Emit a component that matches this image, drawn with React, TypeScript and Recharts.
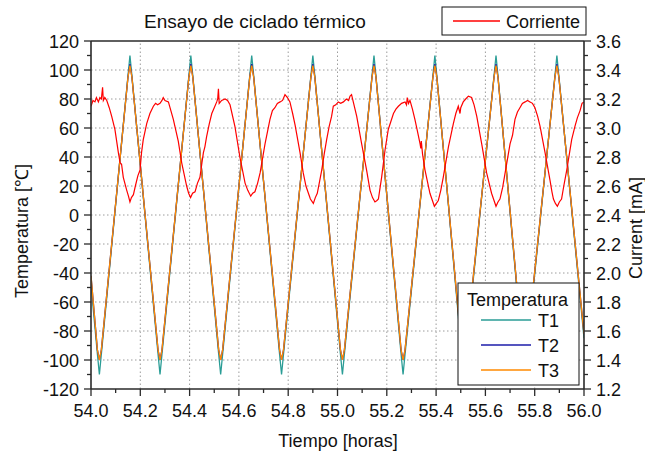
import { LineChart, Line, XAxis, YAxis, ReferenceLine } from "recharts";

// time axis [h] and temperature readings [°C]
const tempTime = [
  54.0, 54.026, 54.034, 54.042,
  54.15, 54.158, 54.166,
  54.272, 54.28, 54.288,
  54.397, 54.405, 54.413,
  54.518, 54.526, 54.534,
  54.644, 54.652, 54.66,
  54.765, 54.773, 54.781,
  54.892, 54.9, 54.908,
  55.012, 55.02, 55.028,
  55.14, 55.148, 55.156,
  55.258, 55.266, 55.274,
  55.387, 55.395, 55.403,
  55.504, 55.512, 55.52,
  55.635, 55.643, 55.651,
  55.751, 55.759, 55.767,
  55.882, 55.89, 55.898,
  56.0,
];
const t1 = [
  -48, -96, -110, -96,
  96, 110, 96, -96, -110, -96,
  96, 110, 96, -96, -110, -96,
  96, 110, 96, -96, -110, -96,
  96, 110, 96, -96, -110, -96,
  96, 110, 96, -96, -110, -96,
  96, 110, 96, -96, -110, -96,
  96, 110, 96, -96, -110, -96,
  96, 110, 96,
  -85,
];
const t2 = [
  -42, -93, -100, -93,
  95, 104, 95, -93, -100, -93,
  95, 104, 95, -93, -100, -93,
  95, 104, 95, -93, -100, -93,
  95, 104, 95, -93, -100, -93,
  95, 104, 95, -93, -100, -93,
  95, 104, 95, -93, -100, -93,
  95, 104, 95, -93, -100, -93,
  95, 104, 95,
  -82,
];
const t3 = [
  -42, -93, -100, -93,
  95, 103, 95, -93, -100, -93,
  95, 103, 95, -93, -100, -93,
  95, 103, 95, -93, -100, -93,
  95, 103, 95, -93, -100, -93,
  95, 103, 95, -93, -100, -93,
  95, 103, 95, -93, -100, -93,
  95, 103, 95, -93, -100, -93,
  95, 103, 95,
  -82,
];

// current readings [mA]
const currentTime = [
  54.0, 54.008, 54.016, 54.022, 54.03, 54.036, 54.042, 54.047, 54.05, 54.056, 54.064, 54.074, 54.084, 54.097,
  54.111, 54.118, 54.124, 54.131, 54.145, 54.152, 54.158, 54.164, 54.172, 54.18, 54.19, 54.199, 54.205, 54.212,
  54.226, 54.239, 54.253, 54.262, 54.27, 54.28, 54.288, 54.293, 54.3, 54.314, 54.324, 54.334, 54.354, 54.368,
  54.388, 54.396, 54.404, 54.412, 54.422, 54.432, 54.442, 54.45, 54.456, 54.462, 54.469, 54.48, 54.49, 54.5,
  54.51, 54.514, 54.517, 54.52, 54.53, 54.544, 54.554, 54.564, 54.584, 54.604, 54.625, 54.636, 54.648, 54.656,
  54.665, 54.676, 54.686, 54.706, 54.726, 54.736, 54.746, 54.756, 54.767, 54.777, 54.787, 54.797, 54.807, 54.818,
  54.828, 54.848, 54.861, 54.872, 54.882, 54.89, 54.902, 54.91, 54.918, 54.926, 54.936, 54.946, 54.956, 54.966,
  54.976, 54.983, 54.993, 55.003, 55.013, 55.024, 55.036, 55.045, 55.051, 55.057, 55.064, 55.078, 55.098, 55.118,
  55.132, 55.142, 55.152, 55.16, 55.166, 55.172, 55.179, 55.193, 55.206, 55.227, 55.237, 55.247, 55.26, 55.274,
  55.28, 55.283, 55.288, 55.294, 55.304, 55.314, 55.324, 55.335, 55.338, 55.34, 55.345, 55.355, 55.375, 55.385,
  55.393, 55.401, 55.409, 55.419, 55.429, 55.45, 55.47, 55.48, 55.49, 55.497, 55.5, 55.51, 55.52, 55.531,
  55.544, 55.554, 55.565, 55.585, 55.605, 55.625, 55.635, 55.643, 55.651, 55.659, 55.67, 55.68, 55.7, 55.705,
  55.71, 55.72, 55.73, 55.74, 55.75, 55.761, 55.771, 55.781, 55.791, 55.801, 55.812, 55.822, 55.842, 55.862,
  55.87, 55.876, 55.884, 55.892, 55.9, 55.909, 55.918, 55.93, 55.95, 55.963, 55.973, 55.984, 55.992, 56.0,
];
const currentMa = [
  3.15, 3.19, 3.18, 3.21, 3.18, 3.21, 3.2, 3.28, 3.19, 3.21, 3.19, 3.14, 3.08, 2.99,
  2.83, 2.76, 2.75, 2.66, 2.57, 2.53, 2.49, 2.52, 2.54, 2.6, 2.67, 2.71, 2.83, 2.92,
  3.03, 3.1, 3.15, 3.17, 3.16, 3.17, 3.19, 3.21, 3.19, 3.18, 3.12, 3.06, 2.91, 2.76,
  2.6, 2.55, 2.52, 2.55, 2.56, 2.62, 2.66, 2.76, 2.83, 2.87, 2.94, 3.03, 3.1, 3.14,
  3.18, 3.2, 3.27, 3.17, 3.19, 3.2, 3.19, 3.16, 3.01, 2.8, 2.62, 2.57, 2.53, 2.55,
  2.56, 2.62, 2.69, 2.89, 3.06, 3.12, 3.14, 3.17, 3.18, 3.19, 3.23, 3.21, 3.18, 3.1,
  3.02, 2.83, 2.69, 2.6, 2.55, 2.51, 2.48, 2.52, 2.55, 2.62, 2.71, 2.82, 2.92, 3.01,
  3.08, 3.15, 3.16, 3.18, 3.17, 3.18, 3.2, 3.19, 3.22, 3.23, 3.18, 3.08, 2.89, 2.71,
  2.57, 2.52, 2.49, 2.5, 2.51, 2.58, 2.66, 2.85, 2.99, 3.1, 3.13, 3.15, 3.17, 3.18,
  3.16, 3.21, 3.17, 3.19, 3.13, 3.06, 2.98, 2.89, 2.86, 2.91, 2.82, 2.71, 2.55, 2.5,
  2.46, 2.48, 2.5, 2.57, 2.66, 2.87, 3.03, 3.1, 3.15, 3.1, 3.14, 3.18, 3.2, 3.22,
  3.21, 3.16, 3.08, 2.89, 2.69, 2.55, 2.5, 2.46, 2.49, 2.51, 2.59, 2.69, 2.89, 2.92,
  2.95, 3.06, 3.11, 3.14, 3.17, 3.18, 3.19, 3.18, 3.17, 3.14, 3.08, 3.01, 2.83, 2.64,
  2.56, 2.51, 2.48, 2.46, 2.49, 2.51, 2.6, 2.71, 2.92, 3.01, 3.07, 3.12, 3.17, 3.18,
];

const xTicks = [
  54.0, 54.1, 54.2, 54.3, 54.4, 54.5, 54.6, 54.7, 54.8, 54.9, 55.0,
  55.1, 55.2, 55.3, 55.4, 55.5, 55.6, 55.7, 55.8, 55.9, 56.0,
];
const leftTicks = [
  -120, -110, -100, -90, -80, -70, -60, -50, -40, -30, -20, -10, 0,
  10, 20, 30, 40, 50, 60, 70, 80, 90, 100, 110, 120,
];
const rightTicks = [
  1.2, 1.3, 1.4, 1.5, 1.6, 1.7, 1.8, 1.9, 2.0, 2.1, 2.2, 2.3, 2.4,
  2.5, 2.6, 2.7, 2.8, 2.9, 3.0, 3.1, 3.2, 3.3, 3.4, 3.5, 3.6,
];
const gridX = [54.2, 54.4, 54.6, 54.8, 55.0, 55.2, 55.4, 55.6, 55.8];
const gridY = [-100, -80, -60, -40, -20, 0, 20, 40, 60, 80, 100];

const tempRows = tempTime.map((t, i) => ({ t, T1: t1[i], T2: t2[i], T3: t3[i] }));
const currentRows = currentTime.map((t, i) => ({ t, I: currentMa[i] }));

const FONT = '"Liberation Sans", Arial, sans-serif';
const AXIS = "#2a2a2a";
const C_T1 = "#2a9d96";
const C_T2 = "#1c1caa";
const C_T3 = "#ff8a00";
const C_I = "#ff0000";

const isMajor10 = (v: number) => Math.round(v * 10) % 2 === 0;

function XTick(props: any) {
  const { x, y, payload } = props;
  const v = payload.value as number;
  const major = isMajor10(v);
  return (
    <g>
      <line x1={x} x2={x} y1={y} y2={y + (major ? 7 : 4)} stroke={AXIS} strokeWidth={1.3} />
      {major && (
        <text x={x} y={y + 28} textAnchor="middle" fontSize={18} fontFamily={FONT} fill="#111">
          {v.toFixed(1)}
        </text>
      )}
    </g>
  );
}

function LeftTick(props: any) {
  const { x, y, payload } = props;
  const v = payload.value as number;
  const major = v % 20 === 0;
  return (
    <g>
      <line x1={x - (major ? 7 : 4)} x2={x} y1={y} y2={y} stroke={AXIS} strokeWidth={1.3} />
      {major && (
        <text x={x - 12} y={y + 6.5} textAnchor="end" fontSize={18} fontFamily={FONT} fill="#111">
          {v}
        </text>
      )}
    </g>
  );
}

function RightTick(props: any) {
  const { x, y, payload } = props;
  const v = payload.value as number;
  const major = isMajor10(v);
  return (
    <g>
      <line x1={x} x2={x + (major ? 7 : 4)} y1={y} y2={y} stroke={AXIS} strokeWidth={1.3} />
      {major && (
        <text x={x + 12} y={y + 6.5} textAnchor="start" fontSize={18} fontFamily={FONT} fill="#111">
          {v.toFixed(1)}
        </text>
      )}
    </g>
  );
}

export default function App() {
  return (
    <div style={{ position: "relative", width: 645, height: 455, fontFamily: FONT }}>
      <style>{`body{margin:0}`}</style>
      <LineChart width={645} height={455} data={tempRows} margin={{ top: 41, right: 0, bottom: 0, left: 0 }}>
        {gridY.map((v) => (
          <ReferenceLine key={"gy" + v} yAxisId="left" y={v} stroke="#9c9c9c" strokeDasharray="1.5 2.5" />
        ))}
        {gridX.map((v) => (
          <ReferenceLine key={"gx" + v} yAxisId="left" x={v} stroke="#9c9c9c" strokeDasharray="1.5 2.5" />
        ))}
        <ReferenceLine yAxisId="left" y={120} stroke={AXIS} strokeWidth={1.6} />
        <XAxis
          dataKey="t"
          type="number"
          domain={[54, 56]}
          ticks={xTicks}
          interval={0}
          allowDataOverflow
          height={66}
          tickSize={0}
          tickMargin={0}
          tickLine={false}
          axisLine={{ stroke: AXIS, strokeWidth: 1.6 }}
          tick={<XTick />}
        />
        <YAxis
          yAxisId="left"
          orientation="left"
          type="number"
          domain={[-120, 120]}
          ticks={leftTicks}
          interval={0}
          allowDataOverflow
          width={91}
          tickSize={0}
          tickMargin={0}
          tickLine={false}
          axisLine={{ stroke: AXIS, strokeWidth: 1.6 }}
          tick={<LeftTick />}
        />
        <YAxis
          yAxisId="right"
          orientation="right"
          type="number"
          domain={[1.2, 3.6]}
          ticks={rightTicks}
          interval={0}
          allowDataOverflow
          width={61}
          tickSize={0}
          tickMargin={0}
          tickLine={false}
          axisLine={{ stroke: AXIS, strokeWidth: 1.6 }}
          tick={<RightTick />}
        />
        <Line yAxisId="left" dataKey="T1" type="linear" stroke={C_T1} strokeWidth={1.3} dot={false} isAnimationActive={false} />
        <Line yAxisId="left" dataKey="T2" type="linear" stroke={C_T2} strokeWidth={1.3} dot={false} isAnimationActive={false} />
        <Line yAxisId="left" dataKey="T3" type="linear" stroke={C_T3} strokeWidth={1.3} dot={false} isAnimationActive={false} />
        <Line
          yAxisId="right"
          data={currentRows}
          dataKey="I"
          type="linear"
          stroke={C_I}
          strokeWidth={1.2}
          dot={false}
          isAnimationActive={false}
        />
      </LineChart>
      <svg
        width={645}
        height={455}
        style={{ position: "absolute", left: 0, top: 0, pointerEvents: "none" }}
        fontFamily={FONT}
      >
        <text x={255} y={28} textAnchor="middle" fontSize={19} fill="#111">
          Ensayo de ciclado térmico
        </text>
        <text transform="translate(28,231) rotate(-90)" textAnchor="middle" fontSize={18} fill="#111">
          Temperatura [℃]
        </text>
        <text transform="translate(642,228) rotate(-90)" textAnchor="middle" fontSize={18} fill="#111">
          Current [mA]
        </text>
        <text x={338} y={447} textAnchor="middle" fontSize={18} fill="#111">
          Tiempo [horas]
        </text>

        <rect x={442} y={7} width={144} height={28} fill="#fff" stroke="#111" strokeWidth={1} />
        <line x1={453} x2={500} y1={21} y2={21} stroke={C_I} strokeWidth={1.5} />
        <text x={506} y={28} fontSize={18} fill="#111">
          Corriente
        </text>

        <rect x={458} y={283} width={121} height={102} fill="#fff" stroke="#111" strokeWidth={1} />
        <text x={467} y={306} fontSize={18} fill="#111">
          Temperatura
        </text>
        <line x1={481} x2={531} y1={320} y2={320} stroke={C_T1} strokeWidth={1.5} />
        <text x={538} y={327} fontSize={18} fill="#111">
          T1
        </text>
        <line x1={481} x2={531} y1={345} y2={345} stroke={C_T2} strokeWidth={1.5} />
        <text x={538} y={352} fontSize={18} fill="#111">
          T2
        </text>
        <line x1={481} x2={531} y1={370} y2={370} stroke={C_T3} strokeWidth={1.5} />
        <text x={538} y={377} fontSize={18} fill="#111">
          T3
        </text>
      </svg>
    </div>
  );
}
